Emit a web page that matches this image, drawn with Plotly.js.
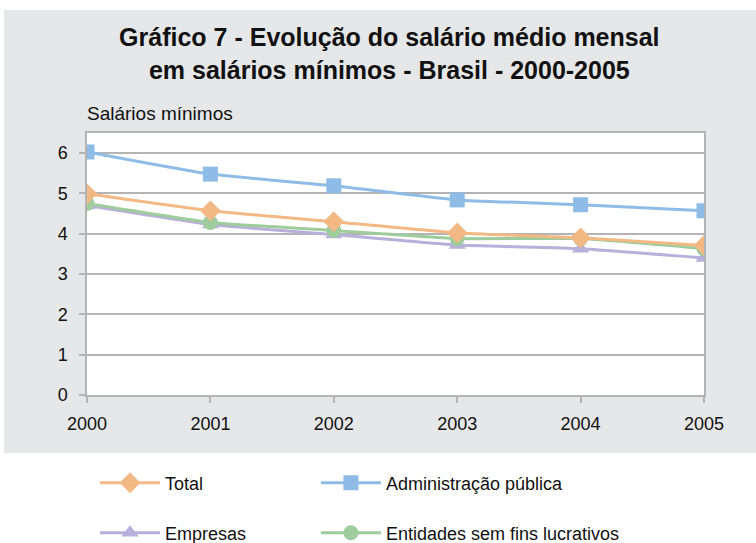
<!DOCTYPE html>
<html>
<head>
<meta charset="utf-8">
<script src="https://cdn.plot.ly/plotly-3.0.1.min.js"></script>
<style>
  body { margin: 0; background: #ffffff; }
  #chart { width: 756px; height: 543px; }
</style>
</head>
<body>
<div id="chart"></div>
<script>
// anos e valores (em salarios minimos)
var anos = [2000, 2001, 2002, 2003, 2004, 2005];
var total = [4.99, 4.57, 4.30, 4.02, 3.90, 3.71];
var adminPublica = [6.03, 5.48, 5.19, 4.84, 4.72, 4.57];
var empresas = [4.70, 4.23, 3.98, 3.72, 3.63, 3.40];
var entidades = [4.75, 4.28, 4.08, 3.88, 3.88, 3.63];

var FONT = 'Liberation Sans, Arial, sans-serif';

function serie(nome, valores, cor, simbolo, tam, legenda) {
    return {
        type: 'scatter',
        mode: 'lines+markers',
        name: nome,
        x: anos,
        y: valores,
        line: {color: cor, width: 3, shape: 'spline', smoothing: 0.4},
        marker: {color: cor, symbol: simbolo, size: tam},
        legend: legenda,
        showlegend: true,
        hoverinfo: 'x+y+name'
    };
}

var data = [
    serie('Empresas', empresas, '#b6b0da', 'triangle-up', 15, 'legend3'),
    serie('Entidades sem fins lucrativos', entidades, '#9fcc9c', 'circle', 15, 'legend4'),
    serie('Total', total, '#f2b985', 'diamond', 16, 'legend'),
    serie('Administração pública', adminPublica, '#8fbbe7', 'square', 15, 'legend2')
];

// uma legenda por celula (2 colunas x 2 linhas)
function legenda(x, y) {
    return {
        xref: 'paper', yref: 'paper',
        x: x, y: y,
        xanchor: 'left', yanchor: 'middle',
        itemwidth: 60,
        font: {family: FONT, size: 18, color: '#111111'},
        bgcolor: 'rgba(0,0,0,0)'
    };
}

var layout = {
    width: 756,
    height: 543,
    showlegend: true,
    margin: {l: 87, r: 52, t: 133, b: 148, autoexpand: false},
    paper_bgcolor: '#ffffff',
    plot_bgcolor: '#ffffff',
    font: {family: FONT, size: 18, color: '#111111'},
    title: {
        text: '<b>Gráfico 7 - Evolução do salário médio mensal<br>em salários mínimos - Brasil - 2000-2005</b>',
        font: {family: FONT, size: 25, color: '#111111'},
        x: 0.515, xanchor: 'center',
        y: 0.915, yanchor: 'middle'
    },
    xaxis: {
        range: [2000, 2005],
        tickvals: anos,
        ticktext: anos.map(String),
        ticks: 'outside', ticklen: 6, tickcolor: '#b4b4b4', tickwidth: 1.5,
        showline: true, linecolor: '#b4b4b4', linewidth: 1.5, mirror: true,
        showgrid: false, zeroline: false,
        ticklabelstandoff: 6,
        tickfont: {family: FONT, size: 18, color: '#111111'}
    },
    yaxis: {
        range: [0, 6.5],
        tickvals: [0, 1, 2, 3, 4, 5, 6],
        ticks: 'outside', ticklen: 6, tickcolor: '#b4b4b4', tickwidth: 1.5,
        showline: true, linecolor: '#b4b4b4', linewidth: 1.5, mirror: true,
        showgrid: true, gridcolor: '#b4b4b4', gridwidth: 1.5,
        zeroline: false,
        ticklabelstandoff: 8,
        tickfont: {family: FONT, size: 18, color: '#111111'}
    },
    legend: legenda(0.013, -0.336),
    legend2: legenda(0.371, -0.336),
    legend3: legenda(0.013, -0.527),
    legend4: legenda(0.371, -0.527),
    shapes: [
        // fundo cinza da area do grafico
        {type: 'rect', xref: 'paper', yref: 'paper', layer: 'below',
         x0: -0.1345, x1: 1.09, y0: -0.221, y1: 1.469,
         fillcolor: '#e6e7e8', line: {width: 0}},
        {type: 'rect', xref: 'paper', yref: 'paper', layer: 'below',
         x0: 0, x1: 1, y0: 0, y1: 1,
         fillcolor: '#ffffff', line: {width: 0}}
    ],
    annotations: [
        {text: 'Salários mínimos', xref: 'paper', yref: 'paper',
         x: -0.003, y: 1.025, xanchor: 'left', yanchor: 'bottom', showarrow: false,
         font: {family: FONT, size: 19, color: '#111111'}}
    ]
};

Plotly.newPlot(document.getElementById('chart'), data, layout, {displayModeBar: false});
</script>
</body>
</html>
